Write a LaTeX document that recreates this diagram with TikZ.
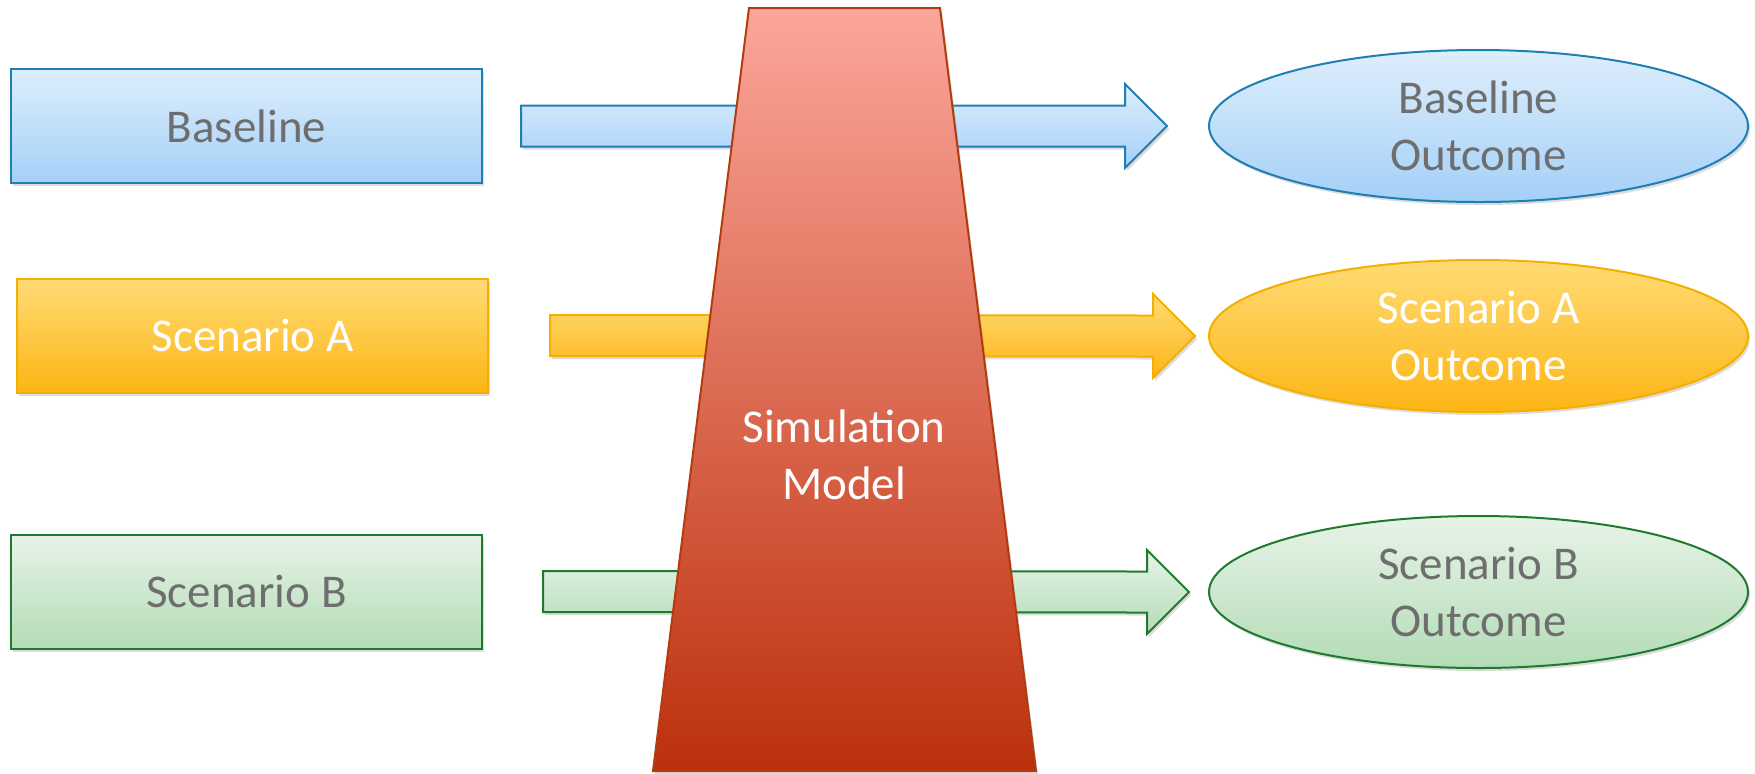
\documentclass[tikz,border=0pt]{standalone}
\usepackage{fontspec}
\setmainfont{Carlito}
\usetikzlibrary{calc,shapes.geometric,shadows}
\definecolor{txtgray}{HTML}{6E6E6E}
\definecolor{bluetop}{HTML}{DEEEFC}
\definecolor{bluebot}{HTML}{A4D0F7}
\definecolor{blueline}{HTML}{1F7FB4}
\definecolor{yeltop}{HTML}{FFDB75}
\definecolor{yelbot}{HTML}{FDB515}
\definecolor{yelline}{HTML}{F4B000}
\definecolor{grntop}{HTML}{E8F3E8}
\definecolor{grnbot}{HTML}{B3DCB6}
\definecolor{grnline}{HTML}{1E7B2E}
\definecolor{redtop}{HTML}{FBA69A}
\definecolor{redbot}{HTML}{BC300C}
\definecolor{redline}{HTML}{B23C0E}
\newcommand\blockarrow[3]{%
  \draw[#1] ($(#2)+(0,-20.5)$) -- ($(#3)+(-42,-20.5)$) -- ($(#3)+(-42,-42)$) -- (#3)
    -- ($(#3)+(-42,42)$) -- ($(#3)+(-42,20.5)$) -- ($(#2)+(0,20.5)$) -- cycle;}
\begin{document}
\begin{tikzpicture}[x=0.5pt,y=-0.5pt,
  shad/.style={drop shadow={opacity=0.28,shadow xshift=1pt,shadow yshift=-1.5pt}},
  txt/.style={font=\fontsize{23.5pt}{28.5pt}\selectfont,align=center,inner sep=0pt},
  boxshape/.style={txt,shad,rectangle,line width=1pt,minimum width=235.5pt,minimum height=57pt},
  ellshape/.style={txt,shad,ellipse,line width=1pt,minimum width=269.5pt,minimum height=76pt},
  bluefill/.style={draw=blueline,top color=bluetop,bottom color=bluebot,text=txtgray},
  yelfill/.style={draw=yelline,top color=yeltop,bottom color=yelbot,text=white},
  grnfill/.style={draw=grnline,top color=grntop,bottom color=grnbot,text=txtgray},
  arrowshape/.style={shad,line width=1pt,line join=miter}
]
\useasboundingbox (0,0) rectangle (1755,773);
% input boxes
\node[boxshape,bluefill] (base) at (246.5,126) {Baseline};
\node[boxshape,yelfill] (scena) at (252.5,335.5) {Scenario A};
\node[boxshape,grnfill] (scenb) at (246.5,591.5) {Scenario B};
% outcome ellipses
\node[ellshape,bluefill] (obase) at (1478.5,126) {Baseline\\Outcome};
\node[ellshape,yelfill] (oscena) at (1478.5,336) {Scenario A\\Outcome};
\node[ellshape,grnfill] (oscenb) at (1478.5,592) {Scenario B\\Outcome};
% arrow end points
\coordinate (a1s) at ($(base.east)+(38,0)$);
\coordinate (a1t) at ($(obase.west)+(-41,0)$);
\coordinate (a2s) at ($(scena.east)+(61,0)$);
\coordinate (a2t) at ($(oscena.west)+(-13,0)$);
\coordinate (a3s) at ($(scenb.east)+(60,0)$);
\coordinate (a3t) at ($(oscenb.west)+(-19,0)$);
\blockarrow{arrowshape,bluefill}{a1s}{a1t}
\blockarrow{arrowshape,yelfill}{a2s}{a2t}
\blockarrow{arrowshape,grnfill}{a3s}{a3t}
% simulation model trapezoid
\coordinate (tl) at (749,8);
\coordinate (tr) at (940,8);
\coordinate (br) at (1036,771);
\coordinate (bl) at (653,771);
\draw[shad,draw=redline,line width=1pt,top color=redtop,bottom color=redbot,line join=miter]
  (tl) -- (tr) -- (br) -- (bl) -- cycle;
\node[txt,text=white] (sim) at (844,455) {Simulation\\Model};
\end{tikzpicture}
\end{document}
